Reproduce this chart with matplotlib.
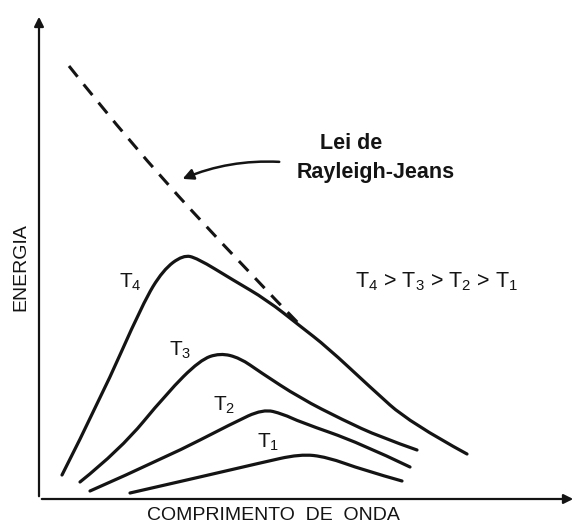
import matplotlib
matplotlib.use("Agg")
import matplotlib.pyplot as plt
from matplotlib.patches import FancyArrowPatch, PathPatch
from matplotlib.path import Path

# curves (arbitrary units: wavelength, energy)
t4_x = [0.46, 1.22, 2.08, 2.48, 2.88, 3.16, 3.88, 4.56, 5.22, 5.76, 6.62, 7.42, 8.56]
t4_y = [0.48, 1.98, 3.92, 4.58, 4.88, 4.82, 4.38, 3.98, 3.46, 3.04, 2.24, 1.52, 0.90]

t3_x = [0.82, 1.62, 2.56, 3.22, 3.62, 4.02, 4.42, 5.22, 6.08, 6.82, 7.56]
t3_y = [0.34, 0.98, 2.12, 2.78, 2.92, 2.82, 2.54, 2.02, 1.58, 1.24, 0.98]

t2_x = [1.02, 2.56, 3.88, 4.48, 4.88, 5.22, 6.42, 7.42]
t2_y = [0.16, 0.84, 1.52, 1.80, 1.70, 1.54, 1.12, 0.64]

t1_x = [1.82, 3.22, 4.42, 5.22, 5.76, 6.48, 7.26]
t1_y = [0.12, 0.44, 0.72, 0.90, 0.84, 0.58, 0.36]

# Rayleigh-Jeans (dashed)
rj_x = [0.60, 1.88, 4.28, 5.26]
rj_y = [8.66, 7.04, 4.44, 3.44]

labels = ["T$_4$", "T$_3$", "T$_2$", "T$_1$"]
label_x = [1.82, 2.82, 3.70, 4.58]
label_y = [4.34, 2.98, 1.88, 1.14]

ink = "#141414"
plt.rcParams["mathtext.default"] = "regular"
plt.rcParams["font.family"] = ["Liberation Sans", "DejaVu Sans"]


def smooth_path(xs, ys):
    # quadratic bezier chain through the midpoints, read points as controls
    pts = list(zip(xs, ys))
    verts = [pts[0]]
    codes = [Path.MOVETO]
    for i in range(1, len(pts) - 1):
        mid = ((pts[i][0] + pts[i + 1][0]) / 2, (pts[i][1] + pts[i + 1][1]) / 2)
        if i == len(pts) - 2:
            mid = pts[-1]
        verts += [pts[i], mid]
        codes += [Path.CURVE3, Path.CURVE3]
    return Path(verts, codes)


fig = plt.figure(figsize=(5.77, 5.24), dpi=100)
ax = fig.add_axes([0, 0, 1, 1])
ax.set_xlim(-0.78, 10.76)
ax.set_ylim(-0.5, 9.98)
ax.axis("off")

# axes with arrow heads
ax.annotate("", xy=(10.74, 0), xytext=(0, 0),
            arrowprops=dict(arrowstyle="-|>", color=ink, lw=1.6, mutation_scale=14))
ax.annotate("", xy=(0, 9.7), xytext=(0, 0),
            arrowprops=dict(arrowstyle="-|>", color=ink, lw=1.6, mutation_scale=14))

for xs, ys in [(t4_x, t4_y), (t3_x, t3_y), (t2_x, t2_y), (t1_x, t1_y)]:
    ax.add_patch(PathPatch(smooth_path(xs, ys), fill=False, edgecolor=ink, lw=2.3,
                           capstyle="round", joinstyle="round"))

ax.add_patch(PathPatch(smooth_path(rj_x, rj_y), fill=False, edgecolor=ink, lw=2.2,
                       ls=(0, (4.5, 3.2))))

for lab, lx, ly in zip(labels, label_x, label_y):
    ax.text(lx, ly, lab, fontsize=15, color=ink, ha="center", va="center")

ax.text(7.96, 4.34, "T$_4$ > T$_3$ > T$_2$ > T$_1$", fontsize=15.5, color=ink,
        ha="center", va="center")

ax.text(5.62, 7.12, "Lei de", fontsize=15.5, color=ink, ha="left", va="center",
        weight="bold")
ax.text(5.16, 6.54, "Rayleigh-Jeans", fontsize=15.5, color=ink, ha="left", va="center",
        weight="bold")

arrow = FancyArrowPatch((4.86, 6.74), (2.82, 6.38), connectionstyle="arc3,rad=0.12",
                        arrowstyle="-|>", mutation_scale=16, color=ink, lw=1.8)
ax.add_patch(arrow)

ax.text(-0.36, 4.64, "ENERGIA", fontsize=14, color=ink, rotation=90,
        ha="center", va="center")
ax.text(4.68, -0.34, "COMPRIMENTO  DE  ONDA", fontsize=14, color=ink,
        ha="center", va="center")

fig.savefig("out.png", dpi=100, facecolor="white")
